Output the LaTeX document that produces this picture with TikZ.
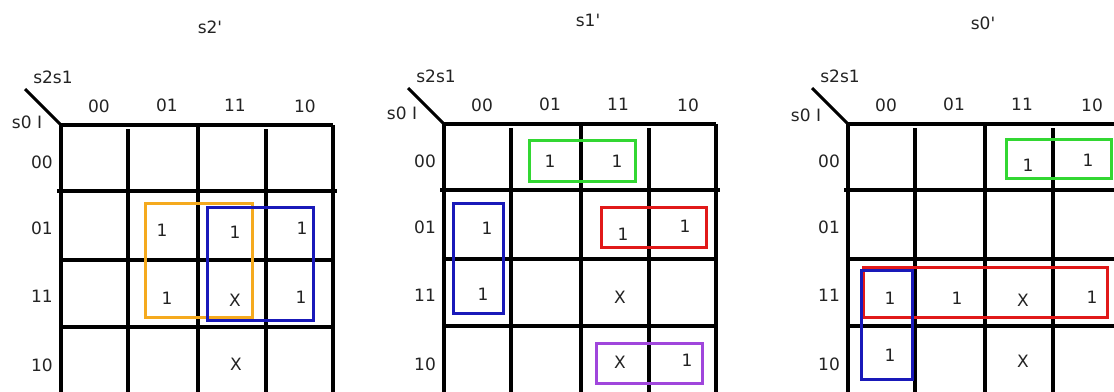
\documentclass[tikz,border=0pt]{standalone}
\usepackage{fontspec}
\setmainfont{DejaVu Sans}[Ligatures=TeXOff]
\definecolor{txtc}{RGB}{35,35,35}
\definecolor{korange}{RGB}{245,170,30}
\definecolor{kblue}{RGB}{25,25,185}
\definecolor{kgreen}{RGB}{50,215,50}
\definecolor{kred}{RGB}{225,25,25}
\definecolor{kpurple}{RGB}{160,70,220}
\newcommand\kmapgrid[5]{% name, x0, y0, s0I dx, s0I dy
  \begin{scope}[shift={(#2,#3)}]
    \draw[gridline] (0,0) -- (272,0);
    \draw[gridline] (0,0) -- (0,400);
    \draw[gridline] (67,4) -- (67,400);
    \draw[gridline] (137,0) -- (137,400);
    \draw[gridline] (205,4) -- (205,400);
    \draw[gridline] (272,0) -- (272,400);
    \draw[gridline] (-4,66) -- (276,66);
    \draw[gridline] (0,135) -- (272,135);
    \draw[gridline] (0,202) -- (272,202);
    \coordinate (#1corner) at (0,0);
    \coordinate (#1diag) at (-36,-36);
    \draw[line width=3pt] (#1diag) -- (#1corner);
    \node[txt] (#1vars) at (-8,-48) {s2s1};
    \node[txt] (#1s0) at (#4,#5) {s0 I};
    \node[txt] (#1c00) at (38,-19) {00};
    \node[txt] (#1c01) at (106,-20) {01};
    \node[txt] (#1c11) at (174,-20) {11};
    \node[txt] (#1c10) at (244,-19) {10};
    \node[txt] (#1r00) at (-19,37) {00};
    \node[txt] (#1r01) at (-19,103) {01};
    \node[txt] (#1r11) at (-19,171) {11};
    \node[txt] (#1r10) at (-19,240) {10};
  \end{scope}}
\begin{document}
\begin{tikzpicture}[x=1pt,y=-1pt,
  gridline/.style={line width=3.4pt,black},
  txt/.style={font=\fontsize{17}{20}\selectfont,text=txtc,inner sep=0pt},
  ring/.style={line width=3pt}]
\useasboundingbox (0,0) rectangle (1114,391);
\clip (0,0) rectangle (1114,391);
\fill[white] (0,0) rectangle (1114,391);
% titles
\node[txt] (t2) at (210,27) {s2'};
\node[txt] (t1) at (588,20) {s1'};
\node[txt] (t0) at (983,23) {s0'};
% grids
\kmapgrid{a}{61}{125}{-34}{-3}
\kmapgrid{b}{444}{124}{-42}{-11}
\kmapgrid{c}{848}{124}{-42}{-9}
% map s2'
\node[txt] (a1) at (162,230) {1};
\node[txt] (a2) at (235,232) {1};
\node[txt] (a3) at (302,228) {1};
\node[txt] (a4) at (167,298) {1};
\node[txt] (a5) at (235,300) {X};
\node[txt] (a6) at (301,297) {1};
\node[txt] (a7) at (236,364) {X};
\draw[ring,korange] (145,203) rectangle (252,317);
\draw[ring,kblue] (207,207) rectangle (313,320);
% map s1'
\node[txt] (b1) at (550,161) {1};
\node[txt] (b2) at (617,161) {1};
\node[txt] (b3) at (487,228) {1};
\node[txt] (b4) at (623,234) {1};
\node[txt] (b5) at (685,226) {1};
\node[txt] (b6) at (483,294) {1};
\node[txt] (b7) at (620,297) {X};
\node[txt] (b8) at (620,362) {X};
\node[txt] (b9) at (687,360) {1};
\draw[ring,kgreen] (529,140) rectangle (635,181);
\draw[ring,kblue] (453,203) rectangle (503,313);
\draw[ring,kred] (601,207) rectangle (706,247);
\draw[ring,kpurple] (596,343) rectangle (702,383);
% map s0'
\node[txt] (c1) at (1028,165) {1};
\node[txt] (c2) at (1088,160) {1};
\node[txt] (c3) at (890,298) {1};
\node[txt] (c4) at (957,298) {1};
\node[txt] (c5) at (1023,300) {X};
\node[txt] (c6) at (1092,297) {1};
\node[txt] (c7) at (890,355) {1};
\node[txt] (c8) at (1023,361) {X};
\draw[ring,kgreen] (1006,139) rectangle (1111,178);
\draw[ring,kred] (863,267) rectangle (1107,317);
\draw[ring,kblue] (861,270) rectangle (912,379);
\end{tikzpicture}
\end{document}
